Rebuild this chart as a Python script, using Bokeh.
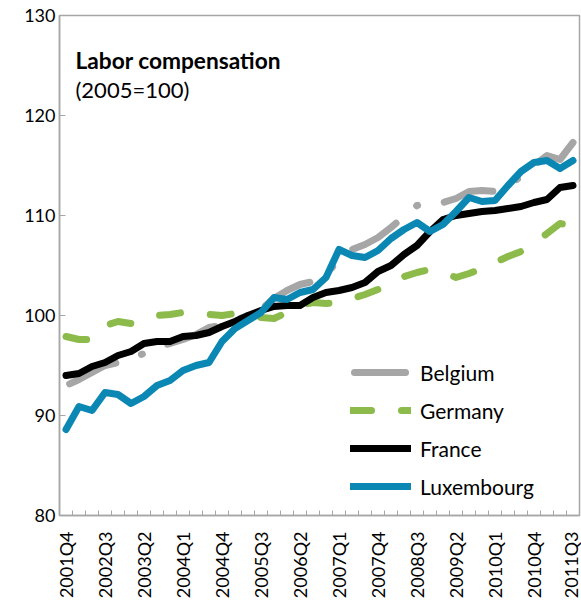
import math
from bokeh.plotting import figure
from bokeh.models import ColumnDataSource, FixedTicker, Label, Range1d
from bokeh.embed import file_html
from bokeh.resources import INLINE

quarters = ["2001Q4", "2002Q1", "2002Q2", "2002Q3", "2002Q4", "2003Q1", "2003Q2", "2003Q3",
            "2003Q4", "2004Q1", "2004Q2", "2004Q3", "2004Q4", "2005Q1", "2005Q2", "2005Q3",
            "2005Q4", "2006Q1", "2006Q2", "2006Q3", "2006Q4", "2007Q1", "2007Q2", "2007Q3",
            "2007Q4", "2008Q1", "2008Q2", "2008Q3", "2008Q4", "2009Q1", "2009Q2", "2009Q3",
            "2009Q4", "2010Q1", "2010Q2", "2010Q3", "2010Q4", "2011Q1", "2011Q2", "2011Q3"]

belgium = [93.0, 93.6, 94.3, 95.0, 95.3, 95.8, 96.2, 96.8, 97.2, 97.6,
           98.1, 98.8, 99.0, 99.5, 100.0, 100.6, 101.7, 102.5, 103.1, 103.4,
           104.1, 105.6, 106.6, 107.1, 107.8, 108.8, 109.9, 111.0, 111.3, 111.3,
           111.7, 112.4, 112.5, 112.4, 113.0, 113.9, 115.0, 116.0, 115.6, 117.3]
germany = [97.9, 97.6, 97.6, 99.0, 99.4, 99.2, 99.6, 100.0, 100.1, 100.3,
           100.3, 100.1, 100.0, 100.2, 100.2, 99.8, 99.7, 100.3, 101.0, 101.3,
           101.2, 101.3, 101.7, 102.1, 102.6, 103.3, 103.9, 104.3, 104.6, 104.3,
           103.8, 104.2, 104.7, 105.3, 105.9, 106.4, 107.2, 108.2, 109.2, 109.0]
france = [94.0, 94.2, 94.9, 95.3, 96.0, 96.4, 97.2, 97.4, 97.4, 97.9,
          98.0, 98.3, 98.9, 99.4, 100.0, 100.5, 100.9, 101.0, 101.0, 101.8,
          102.3, 102.5, 102.8, 103.3, 104.4, 105.0, 106.1, 107.0, 108.4, 109.6,
          110.0, 110.2, 110.4, 110.5, 110.7, 110.9, 111.3, 111.6, 112.8, 113.0]
luxembourg = [88.6, 90.9, 90.5, 92.3, 92.1, 91.2, 91.9, 93.0, 93.5, 94.5,
              95.0, 95.3, 97.4, 98.7, 99.5, 100.3, 101.8, 101.6, 102.3, 102.6,
              103.8, 106.6, 106.0, 105.8, 106.5, 107.7, 108.6, 109.3, 108.4, 109.1,
              110.4, 111.8, 111.4, 111.5, 113.0, 114.4, 115.3, 115.5, 114.7, 115.5]

y_ticks = [80, 90, 100, 110, 120, 130]
title = "Labor compensation"
subtitle = "(2005=100)"

FONT = "Lato"
AXIS_GRAY = "#a6a6a6"

xs = list(range(len(quarters)))
src = ColumnDataSource(dict(x=xs, be=belgium, de=germany, fr=france, lu=luxembourg))

p = figure(width=581, height=603, output_backend="svg", toolbar_location=None,
           x_range=Range1d(-0.5, len(quarters) - 0.5), y_range=Range1d(80, 130),
           min_border_left=59, min_border_right=2, min_border_top=15, min_border_bottom=88)
p.background_fill_color = "white"
p.border_fill_color = "white"
p.outline_line_color = AXIS_GRAY
p.outline_line_width = 1.5
p.xgrid.visible = False
p.ygrid.visible = False

common = dict(line_width=7, line_cap="round", line_join="round")
p.line("x", "be", source=src, line_color="#a6a6a6", line_dash="51 27 1 27",
       line_dash_offset=102, legend_label="Belgium", **common)
p.line("x", "de", source=src, line_color="#8cbb4c", line_dash="21 30",
       legend_label="Germany", **common)
p.line("x", "fr", source=src, line_color="#000000", legend_label="France", **common)
p.line("x", "lu", source=src, line_color="#0a87b3", legend_label="Luxembourg", **common)

# x axis
xa = p.xaxis[0]
xa.ticker = FixedTicker(ticks=xs[::3], minor_ticks=[i - 0.5 for i in range(len(quarters) + 1)])
xa.major_label_overrides = {i: quarters[i] for i in xs[::3]}
xa.major_label_orientation = math.pi / 2
xa.major_tick_in = 0
xa.major_tick_out = 0
xa.minor_tick_in = 5
xa.minor_tick_out = 0
xa.minor_tick_line_color = AXIS_GRAY
xa.axis_line_color = AXIS_GRAY
xa.axis_line_width = 1.5
xa.major_label_text_font = FONT
xa.major_label_text_font_size = "18px"
xa.major_label_text_color = "black"
xa.major_label_standoff = 16

# y axis
ya = p.yaxis[0]
ya.ticker = FixedTicker(ticks=y_ticks)
ya.major_tick_in = 6
ya.major_tick_out = 0
ya.minor_tick_in = 0
ya.minor_tick_out = 0
ya.major_tick_line_color = AXIS_GRAY
ya.axis_line_color = AXIS_GRAY
ya.axis_line_width = 1.5
ya.major_label_text_font = FONT
ya.major_label_text_font_size = "18px"
ya.major_label_text_color = "black"
ya.major_label_standoff = 4

# title inside plot
p.add_layout(Label(x=0.73, y=125.5, text=title, text_font=FONT, text_font_style="bold",
                   text_font_size="22.7px", text_color="black", text_baseline="alphabetic"))
p.add_layout(Label(x=0.73, y=122.6, text=subtitle, text_font=FONT,
                   text_font_size="22px", text_color="black", text_baseline="alphabetic"))

# legend
lg = p.legend[0]
lg.location = (291, 10)
lg.padding = 0
lg.margin = 0
lg.spacing = 0
lg.border_line_color = None
lg.background_fill_alpha = 0
lg.glyph_width = 61
lg.glyph_height = 38
lg.label_height = 38
lg.label_standoff = 9
lg.label_text_font = FONT
lg.label_text_font_size = "21px"
lg.label_text_color = "black"

open("out.html", "w").write(file_html(p, INLINE))
